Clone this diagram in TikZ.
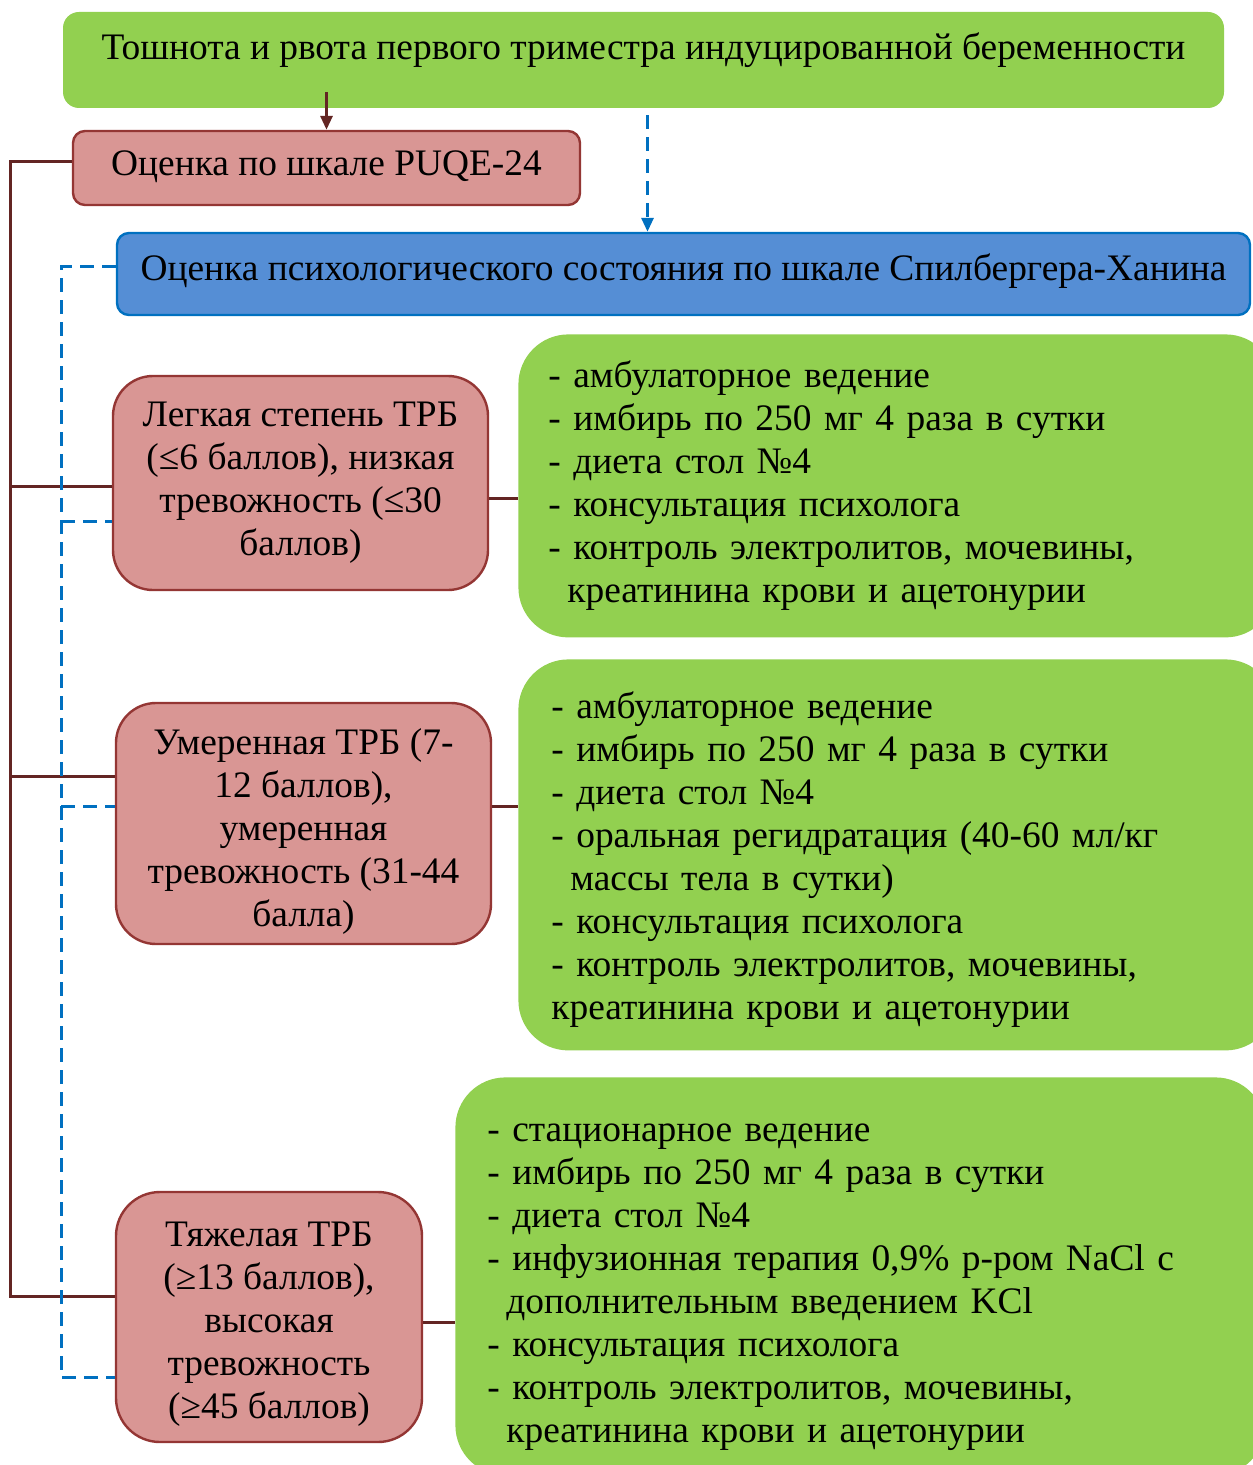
\documentclass[tikz,border=0pt]{standalone}
\usepackage{fontspec}
\setmainfont{Liberation Serif}
\usetikzlibrary{arrows.meta,calc}

\definecolor{grfill}{HTML}{92D050}
\definecolor{pkfill}{HTML}{D99694}
\definecolor{pkline}{HTML}{943634}
\definecolor{brline}{HTML}{632523}
\definecolor{blfill}{HTML}{558ED5}
\definecolor{blline}{HTML}{0070C0}

\tikzset{
  txt/.style={font=\fontsize{18.7}{21.5}\selectfont, text=black},
  topbox/.style={txt, fill=grfill, rounded corners=8pt, align=center},
  pinkbox/.style={txt, fill=pkfill, draw=pkline, line width=1.2pt, align=center},
  bluebox/.style={txt, fill=blfill, draw=blline, line width=1.2pt, rounded corners=6pt},
  listbox/.style={txt, fill=grfill, rounded corners=25pt, align=left, anchor=north west},
  spine/.style={brline, line width=1.5pt},
  dspine/.style={blline, line width=1.5pt, dash pattern=on 7pt off 4pt},
}

\begin{document}
\begin{tikzpicture}[x=0.5pt,y=-0.5pt]
				%%%%% FRAME %%%%%
				\fill[white] (0,0) rectangle (1252,1465);
				\useasboundingbox (0,0) rectangle (1252,1465);
				\def\ind{\hspace*{9.5pt}}
				\def\lift#1{\rule{0pt}{#1}}

				\coordinate (rs) at (10,0);
				\coordinate (bs) at (61,0);

				\node[topbox, minimum width=580.5pt, minimum height=48pt, text depth=14pt] (top) at (643.5,60)
					{Тошнота и рвота первого триместра индуцированной беременности};
				\node[pinkbox, rounded corners=6pt, minimum width=253.5pt, minimum height=37pt, text depth=5pt] (puqe) at (326.5,168)
					{Оценка по шкале PUQE-24};
				\node[bluebox, minimum width=566.5pt, minimum height=41pt, text depth=7pt] (spil) at (683.5,274)
					{Оценка психологического состояния по шкале Спилбергера-Ханина};

				\node[pinkbox, rounded corners=20pt, minimum width=187.5pt, minimum height=107pt] (b1) at (300.5,483)
					{Легкая степень ТРБ\\(≤6 баллов), низкая\\тревожность (≤30\\баллов)};
				\node[pinkbox, rounded corners=20pt, minimum width=187.5pt, minimum height=120.5pt] (b2) at (303.5,823.5)
					{\lift{21pt}Умеренная ТРБ (7-\\12 баллов),\\умеренная\\тревожность (31-44\\балла)};
				\node[pinkbox, rounded corners=22pt, minimum width=153pt, minimum height=125pt] (b3) at (269,1317)
					{\lift{19pt}Тяжелая ТРБ\\(≥13 баллов),\\высокая\\тревожность\\(≥45 баллов)};

				\node[listbox, inner xsep=15pt, text width=348.5pt, minimum height=151.5pt] (g1) at (518,334)
					{- амбулаторное ведение\\- имбирь по 250 мг 4 раза в сутки\\- диета стол №4\\- консультация психолога\\- контроль электролитов, мочевины,\\\ind креатинина крови и ацетонурии};
				\node[listbox, inner xsep=16.5pt, text width=345.5pt, minimum height=195.5pt] (g2) at (518,659)
					{\lift{18pt}- амбулаторное ведение\\- имбирь по 250 мг 4 раза в сутки\\- диета стол №4\\- оральная регидратация (40-60 мл/кг\\\ind массы тела в сутки)\\- консультация психолога\\- контроль электролитов, мочевины,\\креатинина крови и ацетонурии};
				\node[listbox, inner xsep=16pt, text width=373pt, minimum height=199pt] (g3) at (455,1077)
					{\lift{20pt}- стационарное ведение\\- имбирь по 250 мг 4 раза в сутки\\- диета стол №4\\- инфузионная терапия 0,9\% р-ром NaCl с\\\ind дополнительным введением KCl\\- консультация психолога\\- контроль электролитов, мочевины,\\\ind креатинина крови и ацетонурии};

				%%%%% LINKS %%%%%
				\draw[spine, -{Triangle[length=7pt,width=6pt]}] ([yshift=8pt]top.south -| puqe.north) -- (puqe.north);
				\draw[dspine, -{Triangle[length=7pt,width=6pt]}] ([yshift=-3.5pt,xshift=2pt]top.south) -- ([xshift=2pt]top.south |- spil.north);

				\draw[spine] ([yshift=3pt]puqe.west) -- ([yshift=3pt]puqe.west -| rs) -- ([yshift=10.5pt]b3.west -| rs) -- ([yshift=10.5pt]b3.west);
				\draw[spine] ([yshift=-1.5pt]b1.west -| rs) -- ([yshift=-1.5pt]b1.west);
				\draw[spine] ([yshift=23.75pt]b2.west -| rs) -- ([yshift=23.75pt]b2.west);

				\draw[dspine] ([yshift=3.5pt]spil.west) -- ([yshift=3.5pt]spil.west -| bs) -- ([yshift=-30pt]b3.west -| bs) -- ([yshift=-30pt]b3.west);
				\draw[dspine] ([yshift=-19pt]b1.west -| bs) -- ([yshift=-19pt]b1.west);
				\draw[dspine] ([yshift=8.75pt]b2.west -| bs) -- ([yshift=8.75pt]b2.west);

				\draw[spine] ([yshift=-7.5pt]b1.east) -- ([yshift=-7.5pt]b1.east -| g1.west);
				\draw[spine] ([yshift=8.75pt]b2.east) -- ([yshift=8.75pt]b2.east -| g2.west);
				\draw[spine] ([yshift=-2.5pt]b3.east) -- ([yshift=-2.5pt]b3.east -| g3.west);
				%%%%% END %%%%%
\end{tikzpicture}
\end{document}
